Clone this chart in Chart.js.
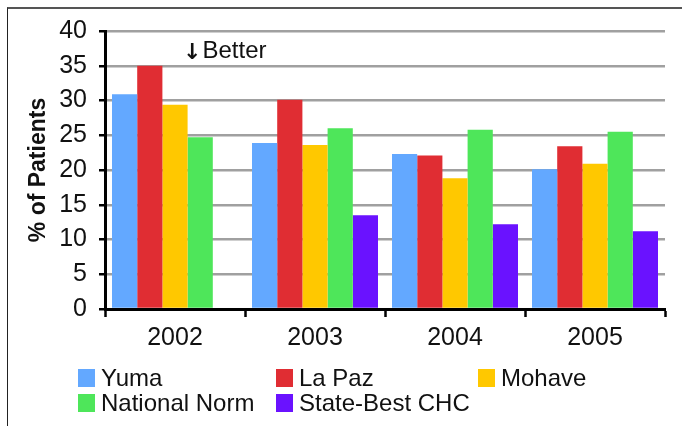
<!DOCTYPE html>
<html>
<head>
<meta charset="utf-8">
<script src="https://cdn.jsdelivr.net/npm/chart.js@4/dist/chart.umd.min.js"></script>
<style>
    html, body { margin: 0; padding: 0; background: #fff; }
    #wrap { position: relative; width: 682px; height: 426px; overflow: hidden; }
    #frame { position: absolute; left: 7px; top: 7px; width: 700px; height: 440px;
             border-left: 1.5px solid #222; border-top: 2px solid #555; }
    canvas { position: absolute; left: 0; top: 0; }
    #legend { position: absolute; left: 78px; top: 364px; width: 600px;
              font-family: 'Liberation Sans', Arial, sans-serif;
              font-size: 24px; color: #111; }
    .item { position: absolute; display: flex; align-items: center; white-space: nowrap; }
    .box { width: 17px; height: 18px; margin-right: 6px; }
</style>
</head>
<body>
<div id="wrap">
    <div id="frame"></div>
    <canvas id="chart" width="682" height="426"></canvas>
    <div id="legend"></div>
</div>
<script>
const years = ['2002', '2003', '2004', '2005'];
const yuma = [30.9, 23.9, 22.3, 20.1];
const laPaz = [35.0, 30.1, 22.1, 23.4];
const mohave = [29.4, 23.6, 18.8, 20.9];
const nationalNorm = [24.7, 26.0, 25.8, 25.5];
const stateBest = [null, 13.5, 12.2, 11.2];
const yTicks = [0, 5, 10, 15, 20, 25, 30, 35, 40];

const seriesNames = ['Yuma', 'La Paz', 'Mohave', 'National Norm', 'State-Best CHC'];
const seriesColors = ['#63a8ff', '#e02d33', '#ffc800', '#4ee65a', '#6a12ff'];
const seriesValues = [yuma, laPaz, mohave, nationalNorm, stateBest];

const FONT = "'Liberation Sans', Arial, sans-serif";

// "↓Better" note placed through the scales
const betterNote = {
    id: 'betterNote',
    afterDraw(chart) {
        const { ctx, scales } = chart;
        const x = scales.x.getPixelForValue(0) + 8;
        const y = scales.y.getPixelForValue(37);
        ctx.save();
        ctx.fillStyle = '#111';
        ctx.textBaseline = 'middle';
        ctx.font = "bold 22px 'DejaVu Sans', sans-serif";
        ctx.fillText('\u2193', x, y + 1);
        const w = ctx.measureText('\u2193').width;
        ctx.font = '24px ' + FONT;
        ctx.fillText('Better', x + w + 1, y);
        ctx.restore();
    }
};

new Chart(document.getElementById('chart'), {
    type: 'bar',
    data: {
        labels: years,
        datasets: seriesValues.map((vals, i) => ({
            label: seriesNames[i],
            data: vals,
            backgroundColor: seriesColors[i],
            borderWidth: 0
        }))
    },
    options: {
        responsive: false,
        animation: false,
        categoryPercentage: 0.9,
        barPercentage: 1.0,
        layout: { padding: { left: 14, right: 17, top: 31, bottom: 0 } },
        plugins: { legend: { display: false }, tooltip: { enabled: false } },
        scales: {
            x: {
                afterFit: s => { s.height = 117; },
                grid: { offset: true, drawOnChartArea: false, drawTicks: true,
                        tickLength: 8, tickColor: '#000', tickWidth: 2.5 },
                border: { color: '#000', width: 3 },
                ticks: { color: '#111', padding: 6, font: { family: FONT, size: 25 } }
            },
            y: {
                min: 0, max: 40,
                afterFit: s => { s.width = 91; },
                afterBuildTicks: s => { s.ticks = yTicks.map(v => ({ value: v })); },
                grid: { color: '#a0a0a0', lineWidth: 2.5, tickLength: 6,
                        tickColor: '#000', tickWidth: 2.5 },
                border: { color: '#000', width: 3 },
                ticks: { color: '#111', padding: 12, font: { family: FONT, size: 25 } },
                title: { display: true, text: '% of Patients', color: '#111',
                         padding: { top: 11, bottom: 0 },
                         font: { family: FONT, size: 23, weight: 'bold' } }
            }
        }
    },
    plugins: [betterNote]
});

// legend in three columns, like the original
const legendPos = [[0, 0], [198, 0], [400, 0], [0, 25], [198, 25]];
const legend = document.getElementById('legend');
seriesNames.forEach((name, i) => {
    const item = document.createElement('div');
    item.className = 'item';
    item.style.left = legendPos[i][0] + 'px';
    item.style.top = legendPos[i][1] + 'px';
    item.innerHTML = `<span class="box" style="background:${seriesColors[i]}"></span>${name}`;
    legend.appendChild(item);
});
</script>
</body>
</html>
